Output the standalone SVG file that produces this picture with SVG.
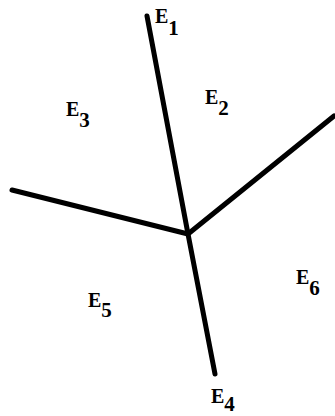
<svg xmlns="http://www.w3.org/2000/svg" width="335" height="416" viewBox="0 0 335 416">
<style>
.edge{stroke:#000;stroke-width:5;fill:none;stroke-linecap:round;stroke-linejoin:round}
.lbl{font-family:"Liberation Serif","DejaVu Serif",serif;font-weight:bold;font-size:20px;fill:#000}
.sub{font-size:21px}
</style>
<rect width="335" height="416" fill="#fff"/>
<g id="connectors">
<path class="edge" d="M147,16 L188,234 L215,374"/>
<path class="edge" d="M12,190 L188,234"/>
<path class="edge" d="M334,116 L188,234"/>
</g>
<g id="E1"><text class="lbl" x="155" y="23">E<tspan class="sub" dy="12">1</tspan></text></g>
<g id="E2"><text class="lbl" x="205" y="104">E<tspan class="sub" dy="11">2</tspan></text></g>
<g id="E3"><text class="lbl" x="66" y="116">E<tspan class="sub" dy="11">3</tspan></text></g>
<g id="E4"><text class="lbl" x="211" y="403">E<tspan class="sub" dy="8">4</tspan></text></g>
<g id="E5"><text class="lbl" x="88" y="307">E<tspan class="sub" dy="10">5</tspan></text></g>
<g id="E6"><text class="lbl" x="296" y="284">E<tspan class="sub" dy="11">6</tspan></text></g>
</svg>
